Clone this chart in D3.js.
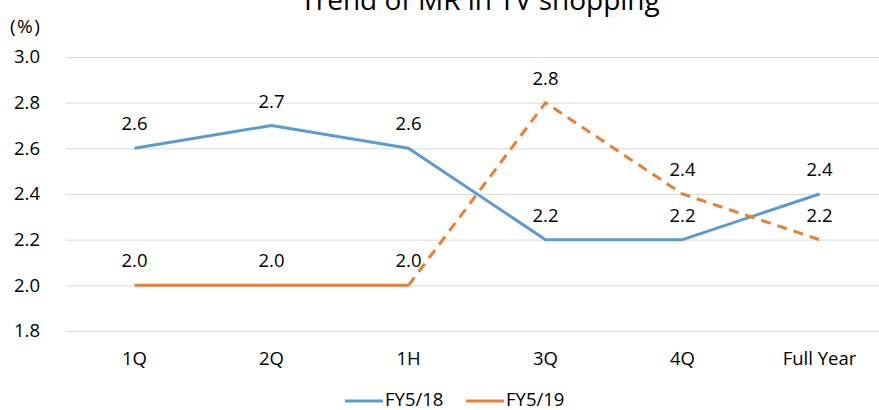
<!DOCTYPE html>
<html>
<head>
<meta charset="utf-8">
<script src="https://cdn.jsdelivr.net/npm/d3@7"></script>
<style>
  body { margin: 0; background: #fff; }
  svg { display: block; font-family: "Open Sans", "Noto Sans", sans-serif; }
</style>
</head>
<body>
<svg id="chart" width="879" height="410"></svg>
<script>
const categories = ["1Q", "2Q", "1H", "3Q", "4Q", "Full Year"];
const fy18 = [2.6, 2.7, 2.6, 2.2, 2.2, 2.4];
const fy19 = [2.0, 2.0, 2.0, 2.8, 2.4, 2.2];
const yTicks = [1.8, 2.0, 2.2, 2.4, 2.6, 2.8, 3.0];
const seriesNames = ["FY5/18", "FY5/19"];
const colors = ["#5B9BD5", "#ED7D31"];

const FS = 18.5;
const svg = d3.select("#chart");

const x = d3.scaleBand().domain(categories).range([66, 888]);
const y = d3.scaleLinear().domain([1.8, 3.0]).range([331, 57]);
const cx = c => x(c) + x.bandwidth() / 2;

// Title
svg.append("text")
  .attr("x", 480).attr("y", 10)
  .attr("text-anchor", "middle")
  .attr("font-size", 28)
  .attr("fill", "#000")
  .text("Trend of MR in TV shopping");

// Gridlines and value axis
const yAxis = d3.axisLeft(y).tickValues(yTicks).tickFormat(d3.format(".1f")).tickSize(0);
const gy = svg.append("g").attr("transform", "translate(66,0)").call(yAxis);
gy.select(".domain").remove();
gy.selectAll("text").attr("x", -26).attr("font-size", FS).attr("fill", "#000")
  .attr("font-family", "'Open Sans', sans-serif");
gy.selectAll(".tick").append("line")
  .attr("x1", 0).attr("x2", 822)
  .attr("stroke", "#d9d9d9").attr("stroke-width", 1);
gy.selectAll(".tick text").raise();

// Unit label
svg.append("text").attr("x", 10).attr("y", 33)
  .attr("font-size", 19).attr("fill", "#000")
  .attr("letter-spacing", 1.5)
  .text("(%)");

// Category labels
const xAxis = d3.axisBottom(x).tickSize(0);
const gx = svg.append("g").call(xAxis);
gx.select(".domain").remove();
gx.selectAll("text").attr("font-size", FS).attr("fill", "#000")
  .attr("font-family", "'Open Sans', sans-serif")
  .attr("y", 365).attr("dy", 0);

const line = d3.line().x((d, i) => cx(categories[i])).y(d => y(d));

// FY5/18 line
svg.append("path").datum(fy18)
  .attr("d", line).attr("fill", "none")
  .attr("stroke", colors[0]).attr("stroke-width", 3)
  .attr("stroke-linejoin", "round");

// FY5/19: solid through 1H, dashed afterwards
const line19 = d3.line().x(d => cx(d.c)).y(d => y(d.v));
const pts19 = fy19.map((v, i) => ({ c: categories[i], v }));
svg.append("path").datum(pts19.slice(0, 3))
  .attr("d", line19).attr("fill", "none")
  .attr("stroke", colors[1]).attr("stroke-width", 3);
svg.append("path").datum(pts19.slice(2))
  .attr("d", line19).attr("fill", "none")
  .attr("stroke", colors[1]).attr("stroke-width", 3)
  .attr("stroke-dasharray", "10,7");

// Data labels
[fy18, fy19].forEach(series => {
  svg.append("g").selectAll("text").data(series).join("text")
    .attr("x", (d, i) => cx(categories[i]))
    .attr("y", d => y(d) - 18)
    .attr("text-anchor", "middle")
    .attr("font-size", FS).attr("fill", "#000")
    .text(d => d3.format(".1f")(d));
});

// Legend
const legend = svg.append("g");
const legendX = [345, 466];
seriesNames.forEach((name, i) => {
  legend.append("line")
    .attr("x1", legendX[i]).attr("x2", legendX[i] + 38)
    .attr("y1", 401).attr("y2", 401)
    .attr("stroke", colors[i]).attr("stroke-width", 3);
  legend.append("text")
    .attr("x", legendX[i] + 40).attr("y", 406)
    .attr("font-size", FS).attr("fill", "#000")
    .text(name);
});
</script>
</body>
</html>
